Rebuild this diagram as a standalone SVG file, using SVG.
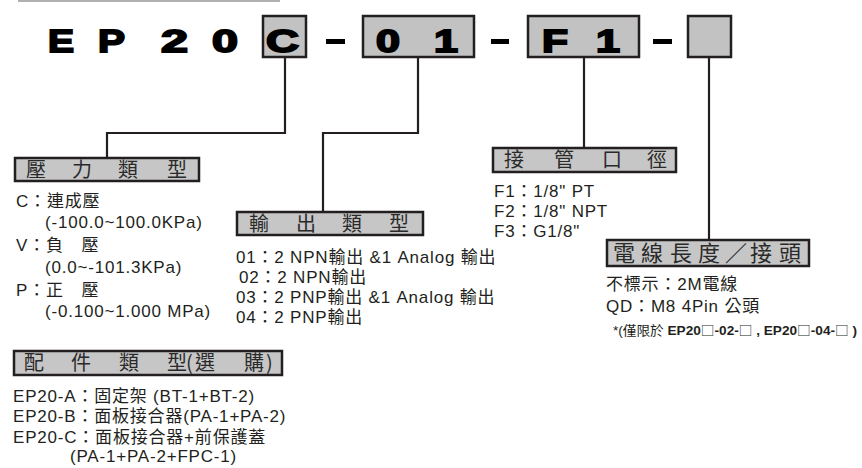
<svg xmlns="http://www.w3.org/2000/svg" width="862" height="468" viewBox="0 0 862 468">
<style>
.code{font-family:"Liberation Sans",Arial,sans-serif;font-weight:900;font-size:31px;fill:#000;stroke:#000;stroke-width:1.8}
.cbox{fill:#c2c2c2;stroke:#231f20;stroke-width:2.5}
.lbox{fill:#c6c6c6;stroke:#231f20;stroke-width:2.5}
.lbl{font-family:"Noto Sans CJK TC","Liberation Sans",sans-serif;font-size:20px;fill:#2a2a2a}
.txt{font-family:"Liberation Sans","Noto Sans CJK TC",sans-serif;font-size:17px;fill:#231f20;letter-spacing:0.8px}
.conn{fill:none;stroke:#231f20;stroke-width:2.2}
.dash{fill:#000}
.sq{font-family:"Noto Sans CJK TC",sans-serif;font-weight:normal}
</style>
<rect width="862" height="468" fill="#fff"/>
<line x1="18" y1="1" x2="280" y2="1" stroke="#b0b0b0" stroke-width="2"/>

<g id="code">
  <text class="code" x="48" y="52" textLength="26" lengthAdjust="spacingAndGlyphs">E</text>
  <text class="code" x="98" y="52" textLength="27" lengthAdjust="spacingAndGlyphs">P</text>
  <text class="code" x="161" y="52" textLength="27" lengthAdjust="spacingAndGlyphs">2</text>
  <text class="code" x="212" y="52" textLength="26" lengthAdjust="spacingAndGlyphs">0</text>
  <g id="box-c"><rect class="cbox" x="263" y="16" width="43" height="41"/><text class="code" x="266" y="52" textLength="33" lengthAdjust="spacingAndGlyphs">C</text></g>
  <rect class="dash" x="326" y="39" width="19" height="5"/>
  <g id="box-01"><rect class="cbox" x="363" y="16" width="111" height="41"/><text class="code" x="376" y="52" textLength="24" lengthAdjust="spacingAndGlyphs">0</text><text class="code" x="434" y="52" textLength="24" lengthAdjust="spacingAndGlyphs">1</text></g>
  <rect class="dash" x="491" y="39" width="18" height="5"/>
  <g id="box-f1"><rect class="cbox" x="528" y="16" width="111" height="41"/><text class="code" x="542" y="52" textLength="26" lengthAdjust="spacingAndGlyphs">F</text><text class="code" x="596" y="52" textLength="24" lengthAdjust="spacingAndGlyphs">1</text></g>
  <rect class="dash" x="653" y="39" width="19" height="5"/>
  <g id="box-blank"><rect class="cbox" x="688" y="16" width="43" height="41"/></g>
</g>

<g id="connectors">
  <polyline class="conn" points="285,57 285,133 107,133 107,158"/>
  <polyline class="conn" points="418,57 418,133 323,133 323,212"/>
  <polyline class="conn" points="584,57 584,148"/>
  <polyline class="conn" points="709,57 709,240"/>
</g>

<g id="pressure">
  <rect class="lbox" x="15" y="158" width="184" height="23"/>
  <text class="lbl" y="177"><tspan x="26">壓</tspan><tspan x="72">力</tspan><tspan x="118">類</tspan><tspan x="167">型</tspan></text>
  <text class="txt" x="16" y="207">C：連成壓</text>
  <text class="txt" x="45" y="228">(-100.0~100.0KPa)</text>
  <text class="txt" x="16" y="251">V：負　壓</text>
  <text class="txt" x="45" y="273">(0.0~-101.3KPa)</text>
  <text class="txt" x="16" y="296">P：正　壓</text>
  <text class="txt" x="45" y="317">(-0.100~1.000 MPa)</text>
</g>

<g id="output">
  <rect class="lbox" x="237" y="212" width="186" height="23"/>
  <text class="lbl" y="231"><tspan x="249">輸</tspan><tspan x="296">出</tspan><tspan x="342">類</tspan><tspan x="389">型</tspan></text>
  <text class="txt" x="236" y="263">01：2 NPN輸出 &amp;1 Analog 輸出</text>
  <text class="txt" x="239" y="283">02：2 NPN輸出</text>
  <text class="txt" x="236" y="303">03：2 PNP輸出 &amp;1 Analog 輸出</text>
  <text class="txt" x="236" y="323">04：2 PNP輸出</text>
</g>

<g id="port">
  <rect class="lbox" x="493" y="148" width="183" height="24"/>
  <text class="lbl" y="167"><tspan x="504">接</tspan><tspan x="554">管</tspan><tspan x="602">口</tspan><tspan x="647">徑</tspan></text>
  <text class="txt" x="494" y="197">F1：1/8" PT</text>
  <text class="txt" x="494" y="217">F2：1/8" NPT</text>
  <text class="txt" x="494" y="237">F3：G1/8"</text>
</g>

<g id="cable">
  <rect class="lbox" x="607" y="240" width="202" height="26"/>
  <text class="lbl" y="261" style="font-size:22px"><tspan x="613">電</tspan><tspan x="641">線</tspan><tspan x="670">長</tspan><tspan x="698">度</tspan><tspan x="725">／</tspan><tspan x="750">接</tspan><tspan x="779">頭</tspan></text>
  <text class="txt" x="606" y="290">不標示：2M電線</text>
  <text class="txt" x="606" y="312">QD：M8 4Pin 公頭</text>
  <text x="613" y="335" textLength="244" lengthAdjust="spacingAndGlyphs" style="font-family:'Liberation Sans','Noto Sans CJK TC',sans-serif;font-size:13px;fill:#231f20">*(僅限於 <tspan font-weight="bold">EP20<tspan class="sq">□</tspan>-02-<tspan class="sq">□</tspan> , EP20<tspan class="sq">□</tspan>-04-<tspan class="sq">□</tspan> )</tspan></text>
</g>

<g id="accessory">
  <rect class="lbox" x="14" y="351" width="268" height="24"/>
  <text class="lbl" y="370"><tspan x="24">配</tspan><tspan x="71">件</tspan><tspan x="119">類</tspan><tspan x="167">型</tspan><tspan x="186">(</tspan><tspan x="195">選</tspan><tspan x="244">購</tspan><tspan x="266">)</tspan></text>
  <text class="txt" x="13" y="402">EP20-A：固定架 (BT-1+BT-2)</text>
  <text class="txt" x="13" y="422">EP20-B：面板接合器(PA-1+PA-2)</text>
  <text class="txt" x="13" y="443">EP20-C：面板接合器+前保護蓋</text>
  <text class="txt" x="70" y="462">(PA-1+PA-2+FPC-1)</text>
</g>
</svg>
